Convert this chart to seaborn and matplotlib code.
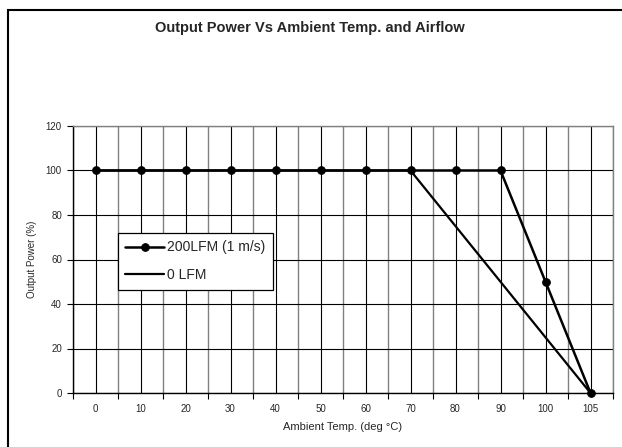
import numpy as np
import pandas as pd
import matplotlib
matplotlib.use('Agg')
import matplotlib.pyplot as plt
from matplotlib.patches import Rectangle
import seaborn as sns

# data
temps = ['0', '10', '20', '30', '40', '50', '60', '70', '80', '90', '100', '105']
lfm200 = [100, 100, 100, 100, 100, 100, 100, 100, 100, 100, 50, 0]
lfm0 = [100, 100, 100, 100, 100, 100, 100, 100, None, None, None, 0]
yticks = [0, 20, 40, 60, 80, 100, 120]

sns.set_style('white')
plt.rcParams['font.family'] = ['Liberation Sans', 'DejaVu Sans']

df = pd.DataFrame({'pos': np.arange(len(temps)), 'temp': temps,
                   '200LFM (1 m/s)': lfm200, '0 LFM': lfm0})
df['0 LFM'] = pd.to_numeric(df['0 LFM'])

fig = plt.figure(figsize=(6.22, 4.47), dpi=100)
ax = fig.add_axes([73/622, 1-393/447, 540/622, 267/447])

# grid: category centres black, category boundaries grey
for p in df['pos']:
    ax.axvline(p, color='black', lw=0.8, zorder=1)
for b in np.arange(-0.5, len(temps), 1.0):
    ax.axvline(b, color='#808080', lw=1.0, zorder=1)
for t in yticks:
    ax.axhline(t, color='black', lw=0.8, zorder=1)

sns.lineplot(data=df, x='pos', y='200LFM (1 m/s)', ax=ax, color='black', lw=1.8,
             marker='o', markersize=5.5, markeredgecolor='black',
             label='200LFM (1 m/s)', zorder=3, clip_on=False)
d0 = df.dropna(subset=['0 LFM'])
sns.lineplot(data=d0, x='pos', y='0 LFM', ax=ax, color='black', lw=1.6,
             label='0 LFM', zorder=3, clip_on=False)

ax.set_xlim(-0.5, len(temps) - 0.5)
ax.set_ylim(0, 120)
ax.set_yticks(yticks)
ax.set_yticklabels([str(t) for t in yticks], fontsize=7)
ax.set_xticks(np.arange(-0.5, len(temps), 1.0))
ax.set_xticklabels([])
ax.set_xticks(df['pos'], minor=True)
ax.set_xticklabels(temps, minor=True, fontsize=7)
ax.tick_params(axis='x', which='major', direction='out', length=4, width=0.8,
               color='black', bottom=True)
ax.tick_params(axis='x', which='minor', length=0, pad=8)
ax.tick_params(axis='y', direction='out', length=4, width=0.8, color='black',
               left=True, pad=4)

for s in ['left', 'bottom']:
    ax.spines[s].set_color('black')
    ax.spines[s].set_linewidth(1.0)
for s in ['top', 'right']:
    ax.spines[s].set_color('#808080')
    ax.spines[s].set_linewidth(1.0)

ax.set_xlabel('Ambient Temp. (deg °C)', fontsize=8, labelpad=6)
ax.set_ylabel('Output Power (%)', fontsize=7, labelpad=6)

leg = ax.legend(loc='upper left', bbox_to_anchor=(0.083, 0.60), fontsize=10,
                frameon=True, fancybox=False, framealpha=1, edgecolor='black',
                handlelength=2.8, handletextpad=0.2, borderpad=0.55,
                labelspacing=1.0, borderaxespad=0)
leg.get_frame().set_linewidth(0.9)

fig.text(310/622, 1-28/447, 'Output Power Vs Ambient Temp. and Airflow',
         ha='center', va='center', fontsize=10.5, fontweight='bold')

# outer chart border
fig.patches.append(Rectangle((8/622, -0.05), 1.0, 1-10/447+0.05,
                             transform=fig.transFigure, fill=False,
                             edgecolor='black', lw=1.5))

fig.savefig('out.png', dpi=100)
